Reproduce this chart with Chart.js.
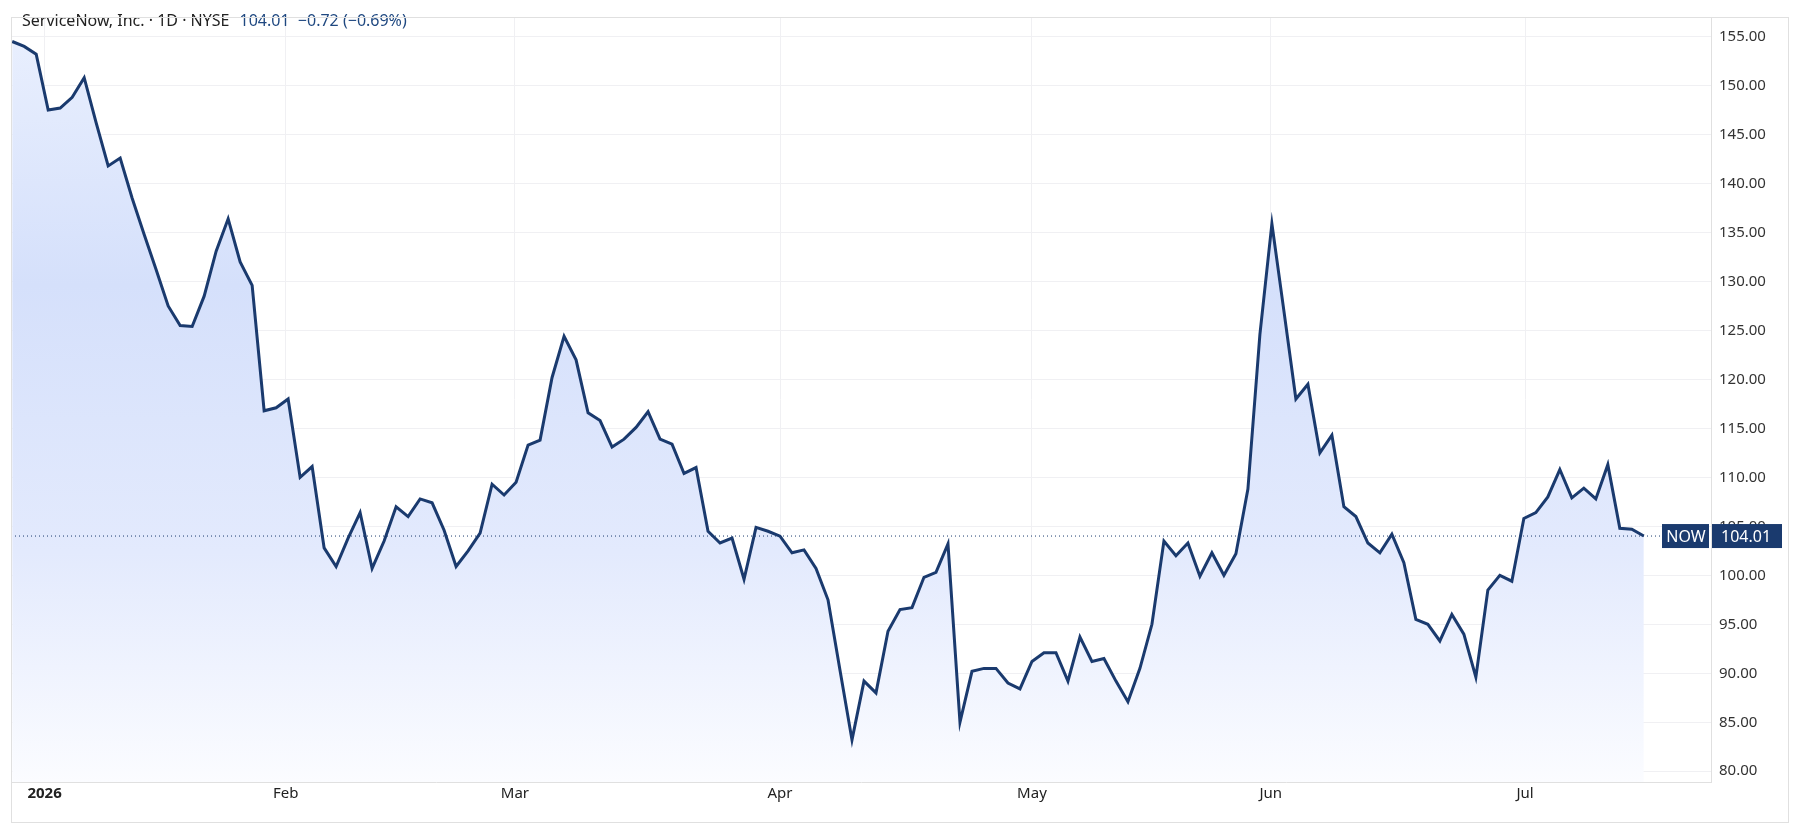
<!DOCTYPE html>
<html>
<head>
<meta charset="utf-8">
<script src="https://cdn.jsdelivr.net/npm/chart.js@4"></script>
<style>
  html, body { margin: 0; padding: 0; background: #fff; }
  #wrap { width: 1800px; height: 834px; position: relative; }
</style>
</head>
<body>
<div id="wrap"><canvas id="priceChart" width="1800" height="834"></canvas></div>
<script>
// daily closes, Jan 2 .. Jul 15 2026
const closes = [
  154.5, 154.0, 153.2, 147.5, 147.7, 148.8, 150.8, 146.2, 141.8, 142.6,
  138.5, 134.8, 131.2, 127.5, 125.5, 125.4, 128.5, 133.1, 136.4, 132.0,
  129.6, 116.8, 117.1, 118.0, 110.0, 111.1, 102.8, 100.9, 103.8, 106.4,
  100.7, 103.5, 107.0, 106.0, 107.8, 107.4, 104.6, 100.9, 102.5, 104.3,
  109.3, 108.2, 109.5, 113.3, 113.8, 120.2, 124.4, 122.0, 116.6, 115.8,
  113.1, 113.9, 115.1, 116.7, 113.9, 113.4, 110.4, 111.0, 104.5, 103.3,
  103.8, 99.6, 104.9, 104.5, 104.0, 102.3, 102.6, 100.7, 97.5, 90.3,
  83.2, 89.2, 88.0, 94.3, 96.5, 96.7, 99.8, 100.3, 103.2, 85.0,
  90.2, 90.5, 90.5, 89.0, 88.4, 91.2, 92.1, 92.1, 89.2, 93.7,
  91.2, 91.5, 89.2, 87.1, 90.5, 95.0, 103.5, 102.0, 103.3, 99.9,
  102.3, 100.0, 102.2, 108.8, 124.6, 135.9, 127.0, 118.0, 119.5, 112.5,
  114.3, 107.0, 106.0, 103.3, 102.3, 104.2, 101.3, 95.5, 95.0, 93.3,
  96.0, 94.0, 89.6, 98.5, 100.0, 99.4, 105.8, 106.4, 108.0, 110.8,
  107.9, 108.9, 107.8, 111.3, 104.8, 104.7, 104.01
];
// month starts, in trading-day units along the x axis
const monthPos = [2.7, 22.8, 41.9, 64.0, 85.0, 104.9, 126.1];
const monthLabels = ['2026', 'Feb', 'Mar', 'Apr', 'May', 'Jun', 'Jul'];
const yTicks = [80, 85, 90, 95, 100, 105, 110, 115, 120, 125, 130, 135, 140, 145, 150, 155];

const lastPrice = 104.01;
const title = 'ServiceNow, Inc. · 1D · NYSE';
const quote = '104.01  \u22120.72 (\u22120.69%)';
const navy = '#1a3a6e';

const points = closes.map((v, i) => ({ x: i, y: v }));

const overlay = {
  id: 'overlay',
  afterDatasetsDraw(chart) {
    const { ctx, chartArea, scales } = chart;
    const y = scales.y.getPixelForValue(lastPrice);
    ctx.save();
    // dotted last-price line
    ctx.strokeStyle = navy;
    ctx.lineWidth = 1;
    ctx.setLineDash([1, 3]);
    ctx.beginPath();
    ctx.moveTo(chartArea.left, y);
    ctx.lineTo(chartArea.right, y);
    ctx.stroke();
    ctx.setLineDash([]);
    // NOW tag + price tag
    ctx.fillStyle = navy;
    ctx.fillRect(chartArea.right - 49, y - 12, 47, 24);
    ctx.fillRect(chartArea.right + 1, y - 12, 70, 24);
    ctx.fillStyle = '#fff';
    ctx.font = '16px "Noto Sans"';
    ctx.textBaseline = 'middle';
    ctx.textAlign = 'center';
    ctx.fillText('NOW', chartArea.right - 25, y + 1);
    ctx.textAlign = 'left';
    ctx.fillText(lastPrice.toFixed(2), chartArea.right + 10, y + 1);
    // header
    ctx.font = '16px "Noto Sans"';
    ctx.fillStyle = '#222';
    ctx.fillText(title, 22, 21);
    const w = ctx.measureText(title).width;
    ctx.fillStyle = '#1f4880';
    ctx.fillText(quote, 22 + w + 10, 21);
    // frame
    ctx.strokeStyle = '#e0e0e0';
    ctx.strokeRect(chartArea.left + 0.5, chartArea.top + 0.5, chartArea.right + 77 - chartArea.left, chartArea.bottom + 40 - chartArea.top);
    ctx.restore();
  }
};

new Chart(document.getElementById('priceChart'), {
  type: 'line',
  data: {
    datasets: [{
      data: points,
      borderColor: navy,
      borderWidth: 3,
      pointRadius: 0,
      tension: 0,
      fill: 'start',
      backgroundColor: (c) => {
        const a = c.chart.chartArea;
        if (!a) return 'rgba(213,224,251,0.8)';
        const g = c.chart.ctx.createLinearGradient(0, a.top, 0, a.bottom);
        g.addColorStop(0, '#eaf0fe');
        g.addColorStop(0.35, '#d5e0fb');
        g.addColorStop(0.7, '#e3eafd');
        g.addColorStop(1, '#fbfcff');
        return g;
      }
    }]
  },
  options: {
    responsive: false,
    animation: false,
    devicePixelRatio: 1,
    layout: { padding: { left: 11, right: 12, top: 0, bottom: 12 } },
    plugins: { legend: { display: false }, tooltip: { enabled: false } },
    scales: {
      x: {
        type: 'linear',
        min: -0.1,
        max: 141.6,
        afterBuildTicks: (s) => { s.ticks = monthPos.map(v => ({ value: v })); },
        afterFit: (s) => { s.height = 40; },
        ticks: {
          autoSkip: false,
          maxRotation: 0,
          color: '#222',
          font: (c) => ({ family: 'Noto Sans', size: 15, weight: c.index === 0 ? 'bold' : 'normal' }),
          callback: (v, i) => monthLabels[i]
        },
        grid: { color: '#f0f0f3', drawTicks: false },
        border: { color: '#e0e0e0' }
      },
      y: {
        position: 'right',
        min: 78.9,
        max: 157.0,
        afterBuildTicks: (s) => { s.ticks = yTicks.map(v => ({ value: v })); },
        afterFit: (s) => { s.width = 77; },
        ticks: {
          color: '#333',
          padding: 8,
          font: { family: 'Noto Sans', size: 15 },
          callback: (v) => v.toFixed(2)
        },
        grid: { color: '#f0f0f3', drawTicks: false },
        border: { color: '#e0e0e0' }
      }
    }
  },
  plugins: [overlay]
});
</script>
</body>
</html>
